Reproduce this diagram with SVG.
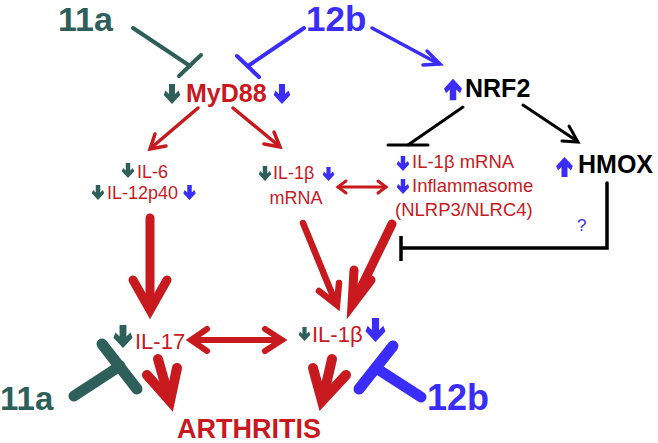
<svg xmlns="http://www.w3.org/2000/svg" xmlns:xlink="http://www.w3.org/1999/xlink" width="658" height="443" viewBox="0 0 658 443">
<defs>
<style>
text{font-family:"Liberation Sans",Arial,sans-serif}
.b{font-weight:bold}
.teal{fill:#2f5f5b}
.blue{fill:#3a2dfb}
.red{fill:#c8191f}
.blk{fill:#000}
.ln{fill:none;stroke-linecap:round;stroke-linejoin:miter}
.sr{stroke:#c8191f}
.st{stroke:#2f5f5b}
.sb{stroke:#3a2dfb}
.sk{stroke:#000}
</style>
<symbol id="dn" viewBox="0 0 10 12"><path d="M3.2,0 H6.8 V6 L8.9,3.9 L10,6.6 L5,12 L0,6.6 L1.1,3.9 L3.2,6 Z"/></symbol>
<symbol id="up" viewBox="0 0 10 12"><path d="M3.2,12 H6.8 V6 L8.9,8.1 L10,5.4 L5,0 L0,5.4 L1.1,8.1 L3.2,6 Z"/></symbol>
</defs>
<rect width="658" height="443" fill="#fff"/>

<g id="connectors">
<g class="ln st" stroke-width="4"><line x1="133" y1="28" x2="190" y2="66"/><line x1="179" y1="76" x2="201" y2="55"/></g>
<g class="ln sb" stroke-width="4"><line x1="304" y1="28" x2="248" y2="66"/><line x1="237" y1="56" x2="259" y2="77"/></g>
<g class="ln sb" stroke-width="3.5"><line x1="372" y1="28" x2="439" y2="64"/><polyline points="427,51 440,64 423,65"/></g>
<g class="ln sr" stroke-width="3.5"><line x1="198" y1="108" x2="151" y2="148"/><polyline points="155,134 150,149 166,146"/></g>
<g class="ln sr" stroke-width="3.5"><line x1="233" y1="108" x2="279" y2="146"/><polyline points="274,132 280,147 264,144"/></g>
<g class="ln sr" stroke-width="3"><line x1="338" y1="187" x2="386" y2="187"/><polyline points="346,181 338,187 346,193"/><polyline points="378,181 386,187 378,193"/></g>
<g class="ln sk" stroke-width="3"><line x1="463" y1="107" x2="408" y2="145"/><line x1="388" y1="145" x2="428" y2="145"/></g>
<g class="ln sk" stroke-width="3"><line x1="523" y1="105" x2="577" y2="141"/><polyline points="569,126 578,142 562,141"/></g>
<g class="ln sk" stroke-width="3.5"><polyline points="607,183 607,248 402,248"/><line x1="401" y1="236" x2="401" y2="261" stroke-linecap="butt"/></g>
<g class="ln sr" stroke-width="9"><line x1="150" y1="218" x2="150" y2="306"/><polyline points="133,280 150,310 167,280"/></g>
<g class="ln sr" stroke-width="6.5"><line x1="303" y1="223" x2="335" y2="301"/><polyline points="319,291 337,305 339,283"/></g>
<g class="ln sr" stroke-width="9"><line x1="392" y1="224" x2="355" y2="300"/><polyline points="354,270 352,305 371,280"/></g>
<g class="ln sr" stroke-width="6"><line x1="192" y1="340" x2="281" y2="340"/><polyline points="207,329 191,340 207,351"/><polyline points="265,329 282,340 265,351"/></g>
<g class="ln sr" stroke-width="10"><line x1="158" y1="359" x2="169" y2="398"/><polyline points="147,375 170,401 177,368"/></g>
<g class="ln sr" stroke-width="10"><line x1="332" y1="359" x2="323" y2="398"/><polyline points="313,368 322,401 346,375"/></g>
<g class="ln st" stroke-width="11" stroke-linecap="butt"><line x1="74" y1="396" x2="120" y2="366"/><line x1="102" y1="344" x2="137" y2="389"/></g>
<g class="ln sb" stroke-width="11" stroke-linecap="butt"><line x1="421" y1="397" x2="376" y2="368"/><line x1="393" y1="346" x2="359" y2="389"/></g>
</g>

<g id="n11a-top"><text x="58" y="31" font-size="34" class="b teal">11a</text></g>
<g id="n12b-top"><text x="306" y="31" font-size="35" class="b blue">12b</text></g>
<g id="myd88">
<use xlink:href="#dn" x="163" y="84" width="18" height="20" class="teal"/>
<text x="186" y="102" font-size="25" class="b red">MyD88</text>
<use xlink:href="#dn" x="273" y="84" width="18" height="20" class="blue"/>
</g>
<g id="nrf2">
<use xlink:href="#up" x="444" y="78" width="18" height="23" class="blue"/>
<text x="465" y="97" font-size="25" class="b blk">NRF2</text>
</g>
<g id="il6">
<use xlink:href="#dn" x="121" y="163" width="14" height="15" class="teal"/>
<text x="137" y="178" font-size="18" class="red">IL-6</text>
<use xlink:href="#dn" x="91" y="185" width="14" height="15" class="teal"/>
<text x="107" y="199" font-size="18" class="red">IL-12p40</text>
<use xlink:href="#dn" x="182" y="185" width="15" height="15" class="blue"/>
</g>
<g id="il1b-mrna">
<use xlink:href="#dn" x="258" y="166" width="14" height="15" class="teal"/>
<text x="273" y="179" font-size="18" class="red">IL-1β</text>
<use xlink:href="#dn" x="322" y="167" width="13" height="14" class="blue"/>
<text x="296" y="204" font-size="18" class="red" text-anchor="middle">mRNA</text>
</g>
<g id="inflammasome">
<use xlink:href="#dn" x="396" y="156" width="14" height="15" class="blue"/>
<text x="412" y="168" font-size="18.5" class="red">IL-1β mRNA</text>
<use xlink:href="#dn" x="396" y="179" width="14" height="15" class="blue"/>
<text x="412" y="192" font-size="18.5" class="red">Inflammasome</text>
<text x="395" y="216" font-size="18.5" class="red">(NLRP3/NLRC4)</text>
</g>
<g id="hmox">
<use xlink:href="#up" x="555" y="157" width="19" height="20" class="blue"/>
<text x="578" y="173" font-size="25" class="b blk">HMOX</text>
<text x="577" y="231" font-size="17" class="blue">?</text>
</g>
<g id="il17">
<use xlink:href="#dn" x="113" y="325" width="20" height="23" class="teal"/>
<text x="135" y="349" font-size="22" class="red">IL-17</text>
</g>
<g id="il1b">
<use xlink:href="#dn" x="298" y="327" width="13" height="14" class="teal"/>
<text x="312" y="342" font-size="22" class="red">IL-1β</text>
<use xlink:href="#dn" x="365" y="318" width="21" height="24" class="blue"/>
</g>
<g id="arthritis"><text x="177" y="438" font-size="27" class="b red">ARTHRITIS</text></g>
<g id="n11a-bottom"><text x="0" y="410" font-size="33" class="b teal">11a</text></g>
<g id="n12b-bottom"><text x="427" y="410" font-size="36" class="b blue">12b</text></g>
</svg>
